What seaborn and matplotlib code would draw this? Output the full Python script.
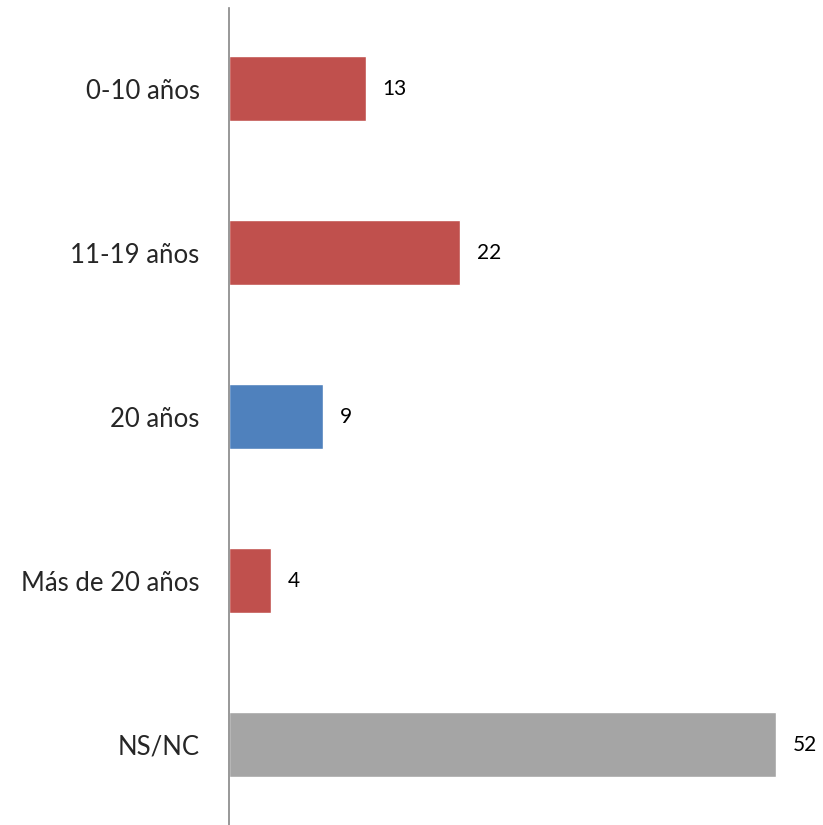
import matplotlib
matplotlib.use('Agg')
import matplotlib.pyplot as plt
import seaborn as sns
import pandas as pd

# data
categories = ['0-10 años', '11-19 años', '20 años', 'Más de 20 años', 'NS/NC']
values = [13, 22, 9, 4, 52]
bar_colors = ['#C0504D', '#C0504D', '#4F81BD', '#C0504D', '#A5A5A5']

sns.set_style('white')
plt.rcParams['font.family'] = ['Lato', 'DejaVu Sans']

df = pd.DataFrame({'cat': categories, 'val': values})

fig = plt.figure(figsize=(8.23, 8.25), dpi=100)
ax = fig.add_axes([0.278, 0.0, 0.722, 0.990])

sns.barplot(data=df, y='cat', x='val', hue='cat', palette=bar_colors,
            orient='h', width=0.4, legend=False, ax=ax, saturation=1)

for cont in ax.containers:
    ax.bar_label(cont, padding=12, fontsize=15, color='black')

ax.set_xlim(0, 56.5)
ax.set_ylim(4.49, -0.49)
ax.set_xlabel('')
ax.set_ylabel('')
ax.set_xticks([])
ax.tick_params(axis='y', length=0, pad=21, labelsize=18.5)
for s in ['top', 'right', 'bottom']:
    ax.spines[s].set_visible(False)
ax.spines['left'].set_color('#868686')
ax.spines['left'].set_linewidth(1.2)

plt.savefig('out.png', dpi=100, facecolor='white')
